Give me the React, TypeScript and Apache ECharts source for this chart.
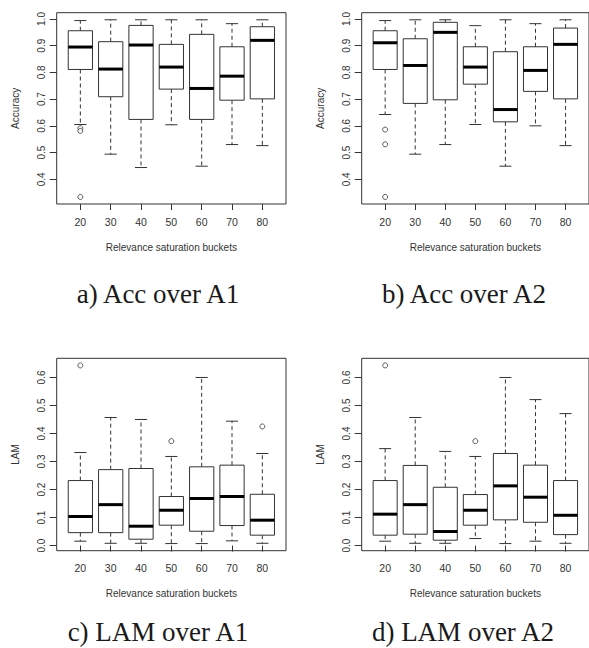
import React, { useEffect, useRef } from "react";
import * as echarts from "echarts";

// Relevance saturation buckets
const categories = ["20", "30", "40", "50", "60", "70", "80"];

// Box statistics per bucket: [lower whisker, Q1, median, Q3, upper whisker]
const accA1Stats = [
  [0.605, 0.811, 0.895, 0.956, 0.994],
  [0.494, 0.709, 0.8125, 0.915, 0.997],
  [0.444, 0.624, 0.9025, 0.976, 0.997],
  [0.604, 0.7375, 0.82, 0.905, 0.997],
  [0.449, 0.624, 0.74, 0.9425, 0.997],
  [0.53, 0.696, 0.786, 0.896, 0.9825],
  [0.526, 0.701, 0.92, 0.971, 0.997],
];
const accA1Outliers = [
  [1, 0.591],
  [1, 0.581],
  [1, 0.334],
];

const accA2Stats = [
  [0.6425, 0.811, 0.911, 0.956, 0.994],
  [0.494, 0.684, 0.826, 0.926, 0.997],
  [0.53, 0.6975, 0.95, 0.9875, 0.997],
  [0.605, 0.756, 0.82, 0.896, 0.975],
  [0.449, 0.615, 0.661, 0.8775, 0.997],
  [0.6, 0.729, 0.8075, 0.896, 0.9825],
  [0.526, 0.701, 0.905, 0.966, 0.997],
];
const accA2Outliers = [
  [1, 0.586],
  [1, 0.531],
  [1, 0.334],
];

const lamA1Stats = [
  [0.0155, 0.046, 0.1036, 0.232, 0.332],
  [0.008, 0.046, 0.146, 0.271, 0.457],
  [0.008, 0.0226, 0.069, 0.275, 0.45],
  [0.007, 0.0726, 0.126, 0.175, 0.318],
  [0.007, 0.051, 0.168, 0.281, 0.6],
  [0.0167, 0.0714, 0.175, 0.287, 0.444],
  [0.008, 0.037, 0.0905, 0.183, 0.3286],
];
const lamA1Outliers = [
  [1, 0.643],
  [4, 0.3726],
  [7, 0.425],
];

const lamA2Stats = [
  [0.0155, 0.037, 0.112, 0.232, 0.346],
  [0.008, 0.0405, 0.146, 0.286, 0.457],
  [0.008, 0.019, 0.05, 0.208, 0.336],
  [0.025, 0.0726, 0.126, 0.182, 0.318],
  [0.007, 0.0917, 0.213, 0.3286, 0.6],
  [0.0155, 0.083, 0.1726, 0.287, 0.521],
  [0.008, 0.039, 0.108, 0.232, 0.471],
];
const lamA2Outliers = [[1, 0.643], [4, 0.3726]];

const accTicks = [0.4, 0.5, 0.6, 0.7, 0.8, 0.9, 1.0];
const lamTicks = [0.0, 0.1, 0.2, 0.3, 0.4, 0.5, 0.6];

const captions = ["a) Acc over A1", "b) Acc over A2", "c) LAM over A1", "d) LAM over A2"];
const yTitles = ["Accuracy", "Accuracy", "LAM", "LAM"];
const xTitle = "Relevance saturation buckets";

const SANS = "'Liberation Sans', Arial, sans-serif";
const SERIF = "'Liberation Serif', 'Times New Roman', serif";
const INK = "#333";

function rangeOf(stats: number[][], outliers: number[][]) {
  const vals: number[] = [];
  stats.forEach((s) => vals.push(...s));
  outliers.forEach((o) => vals.push(o[1]));
  const lo = Math.min(...vals);
  const hi = Math.max(...vals);
  const pad = (hi - lo) * 0.04;
  return [lo - pad, hi + pad];
}

export default function App() {
  const ref = useRef<HTMLDivElement>(null);

  useEffect(() => {
    if (!ref.current) return;
    const chart = echarts.init(ref.current, undefined, { renderer: "svg" });

    const panels = [
      { stats: accA1Stats, out: accA1Outliers, ticks: accTicks, left: 56.7, top: 12.7 },
      { stats: accA2Stats, out: accA2Outliers, ticks: accTicks, left: 361.7, top: 12.7 },
      { stats: lamA1Stats, out: lamA1Outliers, ticks: lamTicks, left: 56.7, top: 358.3 },
      { stats: lamA2Stats, out: lamA2Outliers, ticks: lamTicks, left: 361.7, top: 358.3 },
    ];

    const grids: any[] = [];
    const xAxes: any[] = [];
    const yAxes: any[] = [];
    const series: any[] = [];

    const xPos = categories.map((_, i) => i + 1);

    panels.forEach((p, k) => {
      grids.push({
        left: p.left,
        top: p.top,
        width: 229.3,
        height: k < 2 ? 191.3 : 192.4,
        show: true,
        borderColor: INK,
        borderWidth: 1,
        backgroundColor: "transparent",
        containLabel: false,
      });
      xAxes.push({
        type: "value",
        gridIndex: k,
        min: 0.22,
        max: 7.78,
        splitLine: { show: false },
        axisLine: { show: false },
        axisTick: {
          show: true,
          length: 6,
          customValues: xPos,
          lineStyle: { color: INK, width: 1 },
        },
        axisLabel: {
          show: true,
          customValues: xPos,
          margin: 12,
          color: INK,
          fontFamily: SANS,
          fontSize: 10.5,
          formatter: (v: number) => categories[Math.round(v) - 1] ?? "",
        },
        name: xTitle,
        nameLocation: "middle",
        nameGap: 38,
        nameTextStyle: { color: INK, fontFamily: SANS, fontSize: 10 },
      });
      const [ymin, ymax] = rangeOf(p.stats, p.out);
      yAxes.push({
        type: "value",
        gridIndex: k,
        min: ymin,
        max: ymax,
        splitLine: { show: false },
        axisLine: { show: false },
        axisTick: {
          show: true,
          length: 7,
          customValues: p.ticks,
          lineStyle: { color: INK, width: 1 },
        },
        axisLabel: {
          show: true,
          customValues: p.ticks,
          rotate: 90,
          margin: 10,
          color: INK,
          fontFamily: SANS,
          fontSize: 10,
          formatter: (v: number) => v.toFixed(1),
        },
        name: yTitles[k],
        nameLocation: "middle",
        nameGap: 36,
        nameTextStyle: { color: INK, fontFamily: SANS, fontSize: 10 },
      });

      series.push({
        type: "custom",
        xAxisIndex: k,
        yAxisIndex: k,
        encode: { x: 0, y: [1, 2, 3, 4, 5] },
        data: p.stats.map((s, i) => [i + 1, ...s]),
        renderItem: (params: any, api: any) => {
          const x = api.value(0);
          const low = api.coord([x, api.value(1)]);
          const q1 = api.coord([x, api.value(2)]);
          const med = api.coord([x, api.value(3)]);
          const q3 = api.coord([x, api.value(4)]);
          const high = api.coord([x, api.value(5)]);
          const unit = api.size([1, 0])[0];
          const hw = unit * 0.4;
          const cw = unit * 0.2;
          const cx = low[0];
          const dashed = { stroke: INK, lineWidth: 1, lineDash: [4, 3] };
          const solid = { stroke: INK, lineWidth: 1 };
          return {
            type: "group",
            children: [
              { type: "line", shape: { x1: cx, y1: q3[1], x2: cx, y2: high[1] }, style: dashed },
              { type: "line", shape: { x1: cx, y1: q1[1], x2: cx, y2: low[1] }, style: dashed },
              { type: "line", shape: { x1: cx - cw, y1: high[1], x2: cx + cw, y2: high[1] }, style: solid },
              { type: "line", shape: { x1: cx - cw, y1: low[1], x2: cx + cw, y2: low[1] }, style: solid },
              {
                type: "rect",
                shape: { x: cx - hw, y: q3[1], width: hw * 2, height: q1[1] - q3[1] },
                style: { fill: "#fff", stroke: INK, lineWidth: 1 },
              },
              {
                type: "line",
                shape: { x1: cx - hw, y1: med[1], x2: cx + hw, y2: med[1] },
                style: { stroke: "#000", lineWidth: 3 },
              },
            ],
          };
        },
        silent: true,
        z: 2,
      });
      series.push({
        type: "scatter",
        xAxisIndex: k,
        yAxisIndex: k,
        data: p.out,
        symbol: "circle",
        symbolSize: 5,
        itemStyle: { color: "#fff", borderColor: INK, borderWidth: 1 },
        silent: true,
        z: 3,
      });
    });

    const capPos = [
      [158, 294],
      [464, 294],
      [158, 632],
      [463, 632],
    ];

    chart.setOption({
      animation: false,
      backgroundColor: "#fff",
      grid: grids,
      xAxis: xAxes,
      yAxis: yAxes,
      series,
      graphic: captions.map((t, i) => ({
        type: "text",
        x: capPos[i][0],
        y: capPos[i][1],
        style: {
          text: t,
          fill: "#1a1a1a",
          fontFamily: SERIF,
          fontSize: 27,
          align: "center",
          verticalAlign: "middle",
        },
      })),
    });

    return () => chart.dispose();
  }, []);

  return (
    <div
      ref={ref}
      style={{ position: "absolute", left: 0, top: 0, width: 589, height: 648 }}
    />
  );
}
